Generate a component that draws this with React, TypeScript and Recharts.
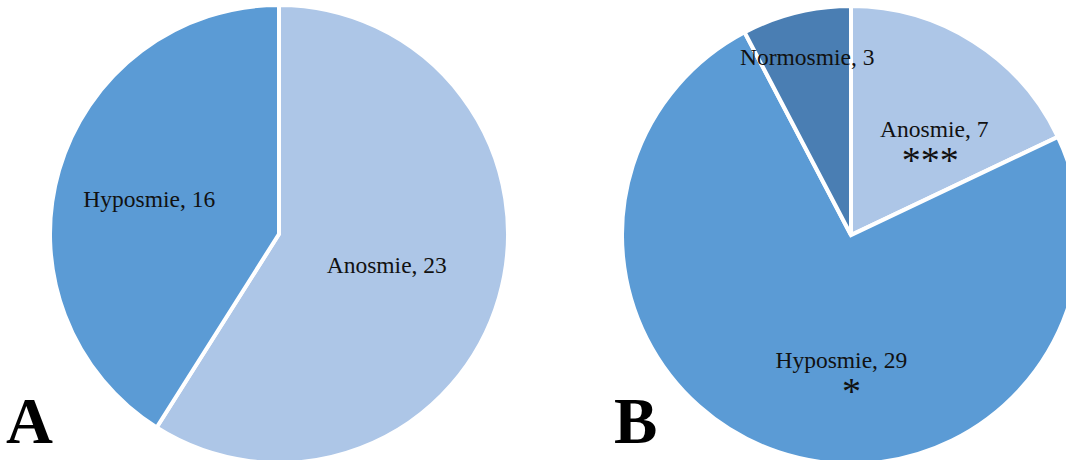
import React from "react";
import { PieChart, Pie, Cell } from "recharts";

const categoriesA = ["Anosmie", "Hyposmie"];
const valuesA = [23, 16];
const categoriesB = ["Anosmie", "Hyposmie", "Normosmie"];
const valuesB = [7, 29, 3];
const marksB = ["***", "*", ""];
const colorsA = ["#ADC6E7", "#5B9BD5"];
const colorsB = ["#ADC6E7", "#5B9BD5", "#4A7EB3"];

const dataA = categoriesA.map((name, i) => ({ name, value: valuesA[i], mark: "" }));
const dataB = categoriesB.map((name, i) => ({ name, value: valuesB[i], mark: marksB[i] }));

const RAD = Math.PI / 180;
const FONT = "'Liberation Serif', 'Times New Roman', serif";

// label placement tweaks (fraction of radius + small nudge), per slice
const layoutA = [
  { f: 0.49, dx: 0, dy: 0 },
  { f: 0.59, dx: 0, dy: 3 },
];
const layoutB = [
  { f: 0.59, dx: 11, dy: 8 },
  { f: 0.56, dx: 31, dy: 3 },
  { f: 0.8, dx: 0, dy: 0 },
];

const makeLabel = (layout: { f: number; dx: number; dy: number }[]) => (props: any) => {
  const { cx, cy, midAngle, outerRadius, index, payload } = props;
  const l = layout[index];
  const r = outerRadius * l.f;
  const x = cx + r * Math.cos(-midAngle * RAD) + l.dx;
  const y = cy + r * Math.sin(-midAngle * RAD) + l.dy;
  const name = payload?.name ?? props.name;
  const value = payload?.value ?? props.value;
  const mark = payload?.mark ?? "";
  return (
    <g>
      <text x={x} y={y} textAnchor="middle" dominantBaseline="central" fontFamily={FONT} fontSize={23.5} fill="#111">
        {`${name}, ${value}`}
      </text>
      {mark ? (
        <text x={x - (mark.length > 1 ? 4 : -10)} y={y + 44} textAnchor="middle" fontFamily={FONT} fontSize={38} fill="#111">
          {mark}
        </text>
      ) : null}
    </g>
  );
};

export default function App() {
  return (
    <div style={{ position: "fixed", left: 0, top: 0, width: 1066, height: 460, background: "#fff" }}>
      <PieChart width={1066} height={460} margin={{ top: 0, right: 0, bottom: 0, left: 0 }}>
        <Pie
          data={dataA}
          dataKey="value"
          nameKey="name"
          cx={279}
          cy={234}
          outerRadius={229}
          startAngle={90}
          endAngle={-270}
          stroke="#fff"
          strokeWidth={4}
          label={makeLabel(layoutA)}
          labelLine={false}
          isAnimationActive={false}
        >
          {dataA.map((d, i) => (
            <Cell key={d.name} fill={colorsA[i]} />
          ))}
        </Pie>
        <Pie
          data={dataB}
          dataKey="value"
          nameKey="name"
          cx={851}
          cy={235}
          outerRadius={229}
          startAngle={90}
          endAngle={-270}
          stroke="#fff"
          strokeWidth={4}
          label={makeLabel(layoutB)}
          labelLine={false}
          isAnimationActive={false}
        >
          {dataB.map((d, i) => (
            <Cell key={d.name} fill={colorsB[i]} />
          ))}
        </Pie>
      </PieChart>
      <svg width={1066} height={460} style={{ position: "absolute", left: 0, top: 0, pointerEvents: "none" }}>
        <text x={6} y={443} fontFamily={FONT} fontWeight="bold" fontSize={65} fill="#000">A</text>
        <text x={614} y={443} fontFamily={FONT} fontWeight="bold" fontSize={65} fill="#000">B</text>
      </svg>
    </div>
  );
}
